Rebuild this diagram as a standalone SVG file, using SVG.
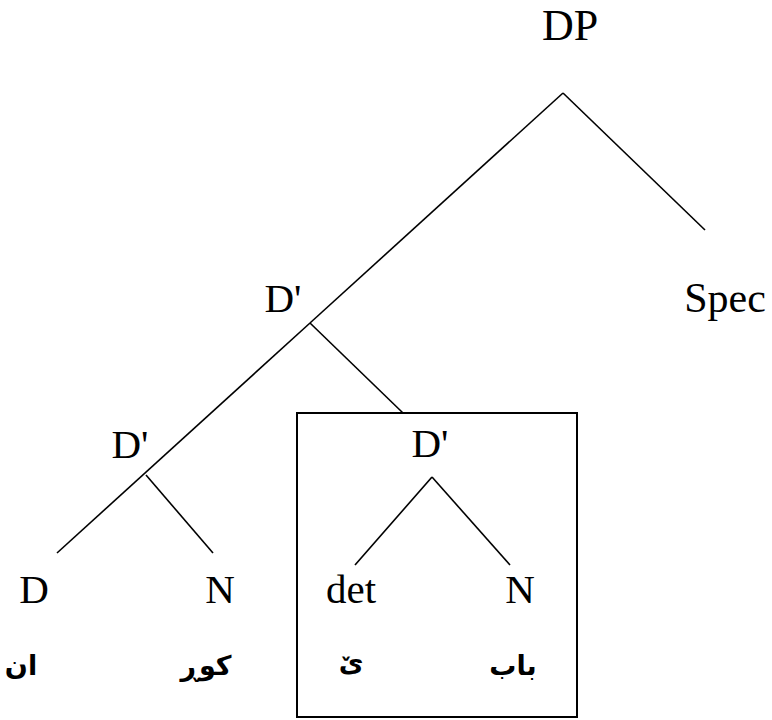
<svg xmlns="http://www.w3.org/2000/svg" width="772" height="720" viewBox="0 0 772 720">
<style>
.lbl{font-family:"Liberation Serif","DejaVu Serif",serif;font-size:41px;fill:#000;text-anchor:middle}
.ar{font-family:"DejaVu Sans","Noto Sans",sans-serif;font-weight:bold;font-size:27px;fill:#000;text-anchor:middle}
.edge{stroke:#000;stroke-width:1.6;fill:none;stroke-linecap:butt}
</style>
<rect width="772" height="720" fill="#fff"/>
<g id="connectors">
<line class="edge" x1="563" y1="93" x2="310" y2="323"/>
<line class="edge" x1="310" y1="323" x2="57" y2="553"/>
<line class="edge" x1="563" y1="93" x2="705" y2="230"/>
<line class="edge" x1="310" y1="323" x2="403" y2="413"/>
<line class="edge" x1="146" y1="475" x2="213" y2="553"/>
<line class="edge" x1="432" y1="477" x2="355" y2="565"/>
<line class="edge" x1="432" y1="477" x2="510" y2="565"/>
</g>
<g id="box">
<rect x="297" y="413" width="280" height="304" fill="none" stroke="#000" stroke-width="2"/>
</g>
<g id="node-DP"><text class="lbl" x="570" y="40" style="font-size:44px">DP</text></g>
<g id="node-Spec"><text class="lbl" x="725" y="312" style="font-size:42px">Spec</text></g>
<g id="node-Dbar1"><text class="lbl" x="283" y="312">D'</text></g>
<g id="node-Dbar2"><text class="lbl" x="130" y="458">D'</text></g>
<g id="node-Dbar3"><text class="lbl" x="430" y="457">D'</text></g>
<g id="node-D"><text class="lbl" x="34" y="603">D</text><text class="ar" x="21" y="675">ان</text></g>
<g id="node-N1"><text class="lbl" x="220" y="603">N</text><text class="ar" x="206" y="675">کوڕ</text></g>
<g id="node-det"><text class="lbl" x="351" y="603">det</text><text class="ar" x="351" y="671">ێ</text></g>
<g id="node-N2"><text class="lbl" x="520" y="603">N</text><text class="ar" x="513" y="675">باب</text></g>
</svg>
